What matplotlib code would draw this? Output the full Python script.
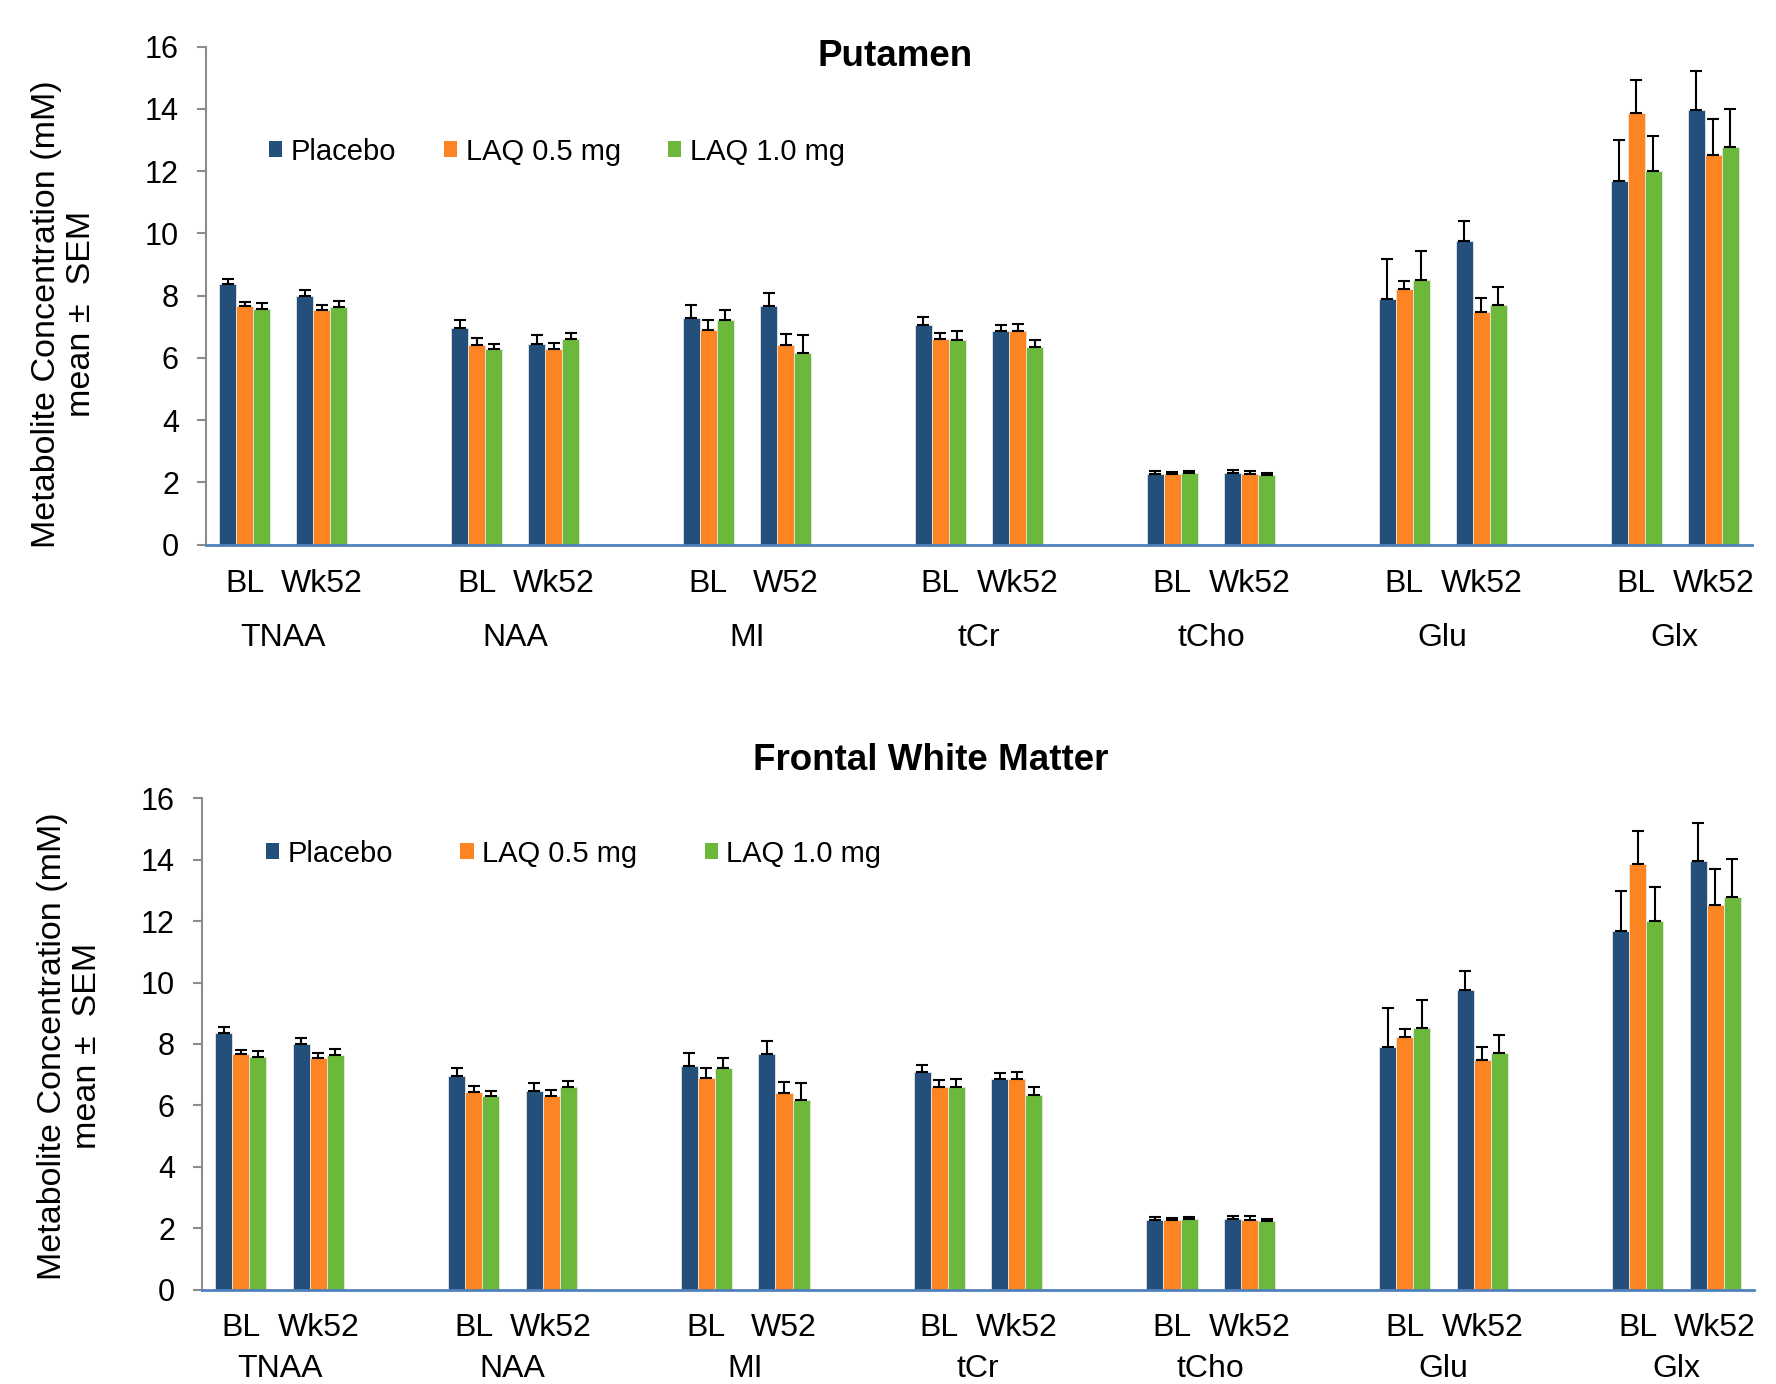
import matplotlib
matplotlib.use("Agg")
import matplotlib.pyplot as plt
from matplotlib.patches import Patch
import numpy as np

plt.rcParams['font.family'] = ['Liberation Sans', 'DejaVu Sans']

# data (same values in both panels)
metabolites = ["TNAA", "NAA", "MI", "tCr", "tCho", "Glu", "Glx"]
time_labels = [["BL", "Wk52"], ["BL", "Wk52"], ["BL", "W52"], ["BL", "Wk52"],
               ["BL", "Wk52"], ["BL", "Wk52"], ["BL", "Wk52"]]
groups = ["Placebo", "LAQ 0.5 mg", "LAQ 1.0 mg"]

# order: TNAA BL, TNAA Wk52, NAA BL, NAA Wk52, ...
placebo = [8.37, 7.99, 6.96, 6.46, 7.29, 7.67, 7.07, 6.87, 2.28, 2.30, 7.90, 9.75, 11.67, 13.96]
laq05 = [7.66, 7.54, 6.42, 6.29, 6.90, 6.40, 6.60, 6.85, 2.28, 2.28, 8.21, 7.48, 13.86, 12.53]
laq10 = [7.57, 7.63, 6.29, 6.60, 7.21, 6.16, 6.59, 6.35, 2.29, 2.24, 8.51, 7.70, 12.01, 12.79]
placebo_sem = [0.17, 0.19, 0.26, 0.26, 0.40, 0.42, 0.25, 0.19, 0.09, 0.09, 1.27, 0.64, 1.32, 1.25]
laq05_sem = [0.15, 0.16, 0.22, 0.20, 0.32, 0.37, 0.21, 0.25, 0.06, 0.10, 0.26, 0.43, 1.06, 1.16]
laq10_sem = [0.20, 0.21, 0.17, 0.20, 0.33, 0.56, 0.26, 0.23, 0.08, 0.06, 0.92, 0.58, 1.11, 1.22]

colors = ["#234F7A", "#FD8423", "#6BB83B"]
series = [placebo, laq05, laq10]
sems = [placebo_sem, laq05_sem, laq10_sem]

W, H = 1776, 1384
fig = plt.figure(figsize=(W / 100, H / 100), dpi=100)


def panel(rect, title, title_xy, legend_xy, colspace, lab_y, name_y, ylab_xy):
    ax = fig.add_axes(rect)
    pos = []
    for m in range(len(metabolites)):
        pos += [m * 3, m * 3 + 1]
    pos = np.array(pos, dtype=float)
    bw = 0.22
    for k in range(3):
        vals = np.array(series[k])
        err = np.array(sems[k])
        xk = pos + (k - 1) * bw
        ax.bar(xk, vals, width=bw, color=colors[k], edgecolor="#e6e6e6",
               linewidth=0.6, zorder=2)
        ax.errorbar(xk, vals, yerr=[np.zeros_like(err), err], fmt="none",
                    ecolor="black", elinewidth=1.5, capsize=4.3,
                    capthick=1.5, zorder=3)
    ax.set_xlim(-0.5, 19.5)
    ax.set_ylim(0, 16)
    ax.set_yticks(range(0, 17, 2))
    ax.set_xticks([])
    for s in ["top", "right"]:
        ax.spines[s].set_visible(False)
    ax.spines["left"].set_color("#8c8c8c")
    ax.spines["left"].set_linewidth(1.5)
    ax.spines["bottom"].set_color("#4F81BD")
    ax.spines["bottom"].set_linewidth(2)
    ax.tick_params(axis="y", direction="out", length=6.5, width=1.5,
                   color="#8c8c8c", labelsize=22, pad=13)
    tr = ax.get_xaxis_transform()
    for m, name in enumerate(metabolites):
        for t in range(2):
            ax.text(pos[m * 2 + t], lab_y, time_labels[m][t], transform=tr,
                    ha="center", va="center", fontsize=23)
        ax.text((pos[m * 2] + pos[m * 2 + 1]) / 2, name_y, name, transform=tr,
                ha="center", va="center", fontsize=23)
    fig.text(title_xy[0] / W, 1 - title_xy[1] / H, title, ha="center",
             va="center", fontsize=26.5, fontweight="bold")
    handles = [Patch(facecolor=c, edgecolor="none") for c in colors]
    fig.legend(handles, groups, loc="center left",
               bbox_to_anchor=(legend_xy[0] / W, 1 - legend_xy[1] / H),
               ncol=3, frameon=False, fontsize=21, handlelength=0.45,
               handleheight=0.45, handletextpad=0.3, columnspacing=colspace,
               borderpad=0, borderaxespad=0)
    fig.text(ylab_xy[0] / W, 1 - ylab_xy[1] / H,
             "Metabolite Concentration (mM)\nmean \u00b1  SEM", rotation=90,
             ha="center", va="center", multialignment="center", fontsize=24.5,
             linespacing=1.2)
    return ax


panel([206 / W, 1 - 544.6 / H, (1752 - 206) / W, (544.6 - 46.7) / H],
      "Putamen", (895, 57), (269, 151.5), 1.62, -0.080, -0.188, (64, 314))
panel([202 / W, 1 - 1289.5 / H, (1754 - 202) / W, (1289.5 - 798.3) / H],
      "Frontal White Matter", (931, 761), (266, 853.5), 2.3, -0.078, -0.161,
      (70, 1046))

fig.savefig("out.png", dpi=100)
